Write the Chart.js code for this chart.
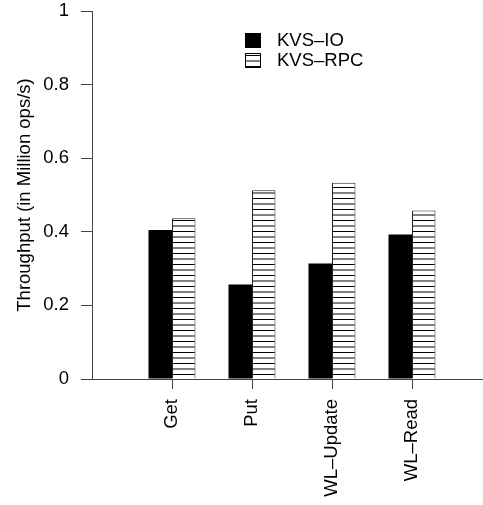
<!DOCTYPE html>
<html>
<head>
<meta charset="utf-8">
<script src="https://cdn.jsdelivr.net/npm/chart.js@4"></script>
<style>
  html, body { margin: 0; padding: 0; background: #fff; }
  canvas { display: block; }
</style>
</head>
<body>
<canvas id="myChart" width="483" height="505"></canvas>
<script>
// Werte der Balken
const categories = ['Get', 'Put', 'WL\u2013Update', 'WL\u2013Read'];
const kvsIo = [0.405, 0.257, 0.314, 0.393];
const kvsRpc = [0.437, 0.513, 0.533, 0.458];
const yTicks = [0, 0.2, 0.4, 0.6, 0.8, 1];
const seriesNames = ['KVS\u2013IO', 'KVS\u2013RPC'];

const FONT = '"Liberation Sans", Arial, sans-serif';
const axisColor = '#444';

// Muster mit waagerechten Linien fuer die zweite Reihe
function stripes() {
    const c = document.createElement('canvas');
    c.width = 4;
    c.height = 11;
    const g = c.getContext('2d');
    g.fillStyle = '#fff';
    g.fillRect(0, 0, 4, 11);
    g.strokeStyle = '#000';
    g.lineWidth = 1;
    g.beginPath();
    g.moveTo(0, 0.5); g.lineTo(4, 0.5);
    g.moveTo(0, 6); g.lineTo(4, 6);
    g.stroke();
    return g.createPattern(c, 'repeat');
}

const ctx = document.getElementById('myChart').getContext('2d');
const hatch = stripes();

// Legende oben rechts im Diagramm
const boxLegend = {
    id: 'boxLegend',
    afterDraw(chart) {
        const c = chart.ctx;
        c.save();
        c.font = '18.5px ' + FONT;
        c.textBaseline = 'middle';
        chart.data.datasets.forEach((ds, i) => {
            const y = 33 + i * 20;
            c.fillStyle = ds.backgroundColor;
            c.fillRect(245, y, 16, 15);
            c.strokeStyle = '#000';
            c.lineWidth = 1;
            c.strokeRect(245.5, y + 0.5, 15, 14);
            c.fillStyle = '#000';
            c.fillText(ds.label, 277, y + 8);
        });
        c.restore();
    }
};

new Chart(ctx, {
    type: 'bar',
    data: {
        datasets: [
            {
                label: seriesNames[0],
                data: kvsIo.map((v, i) => ({ x: i + 1, y: v })),
                backgroundColor: '#000',
                borderColor: '#000',
                borderWidth: 0
            },
            {
                label: seriesNames[1],
                data: kvsRpc.map((v, i) => ({ x: i + 1, y: v })),
                backgroundColor: hatch,
                borderColor: '#222',
                borderWidth: 1
            }
        ]
    },
    options: {
        responsive: false,
        animation: false,
        devicePixelRatio: 1,
        datasets: {
            bar: { barPercentage: 1, categoryPercentage: 0.5875 }
        },
        layout: { padding: 0 },
        scales: {
            x: {
                type: 'linear',
                min: 0,
                max: 4.8875,
                offset: false,
                afterBuildTicks: scale => {
                    scale.ticks = categories.map((c, i) => ({ value: i + 1 }));
                },
                afterFit: scale => {
                    scale.height = 126;
                    scale.paddingLeft = 0;
                    scale.paddingRight = 0;
                },
                ticks: {
                    autoSkip: false,
                    minRotation: 90,
                    maxRotation: 90,
                    padding: 10,
                    color: '#000',
                    font: { family: FONT, size: 18.5 },
                    callback: v => categories[v - 1]
                },
                grid: {
                    offset: false,
                    drawOnChartArea: false,
                    drawTicks: true,
                    tickLength: 10,
                    color: axisColor,
                    lineWidth: 1
                },
                border: { display: true, color: axisColor, width: 1 }
            },
            y: {
                min: 0,
                max: 1,
                afterBuildTicks: scale => {
                    scale.ticks = yTicks.map(v => ({ value: v }));
                },
                afterFit: scale => {
                    scale.width = 92;
                    scale.paddingTop = 11;
                    scale.paddingBottom = 0;
                },
                ticks: {
                    padding: 12,
                    color: '#000',
                    font: { family: FONT, size: 18.5 },
                    callback: v => String(+v.toFixed(1))
                },
                grid: {
                    drawOnChartArea: false,
                    drawTicks: true,
                    tickLength: 11,
                    color: axisColor,
                    lineWidth: 1
                },
                border: { display: true, color: axisColor, width: 1 },
                title: {
                    display: true,
                    text: 'Throughput (in Million ops/s)',
                    color: '#000',
                    font: { family: FONT, size: 18.5 },
                    padding: { top: 14, bottom: 0 }
                }
            }
        },
        plugins: {
            legend: { display: false },
            tooltip: { enabled: false }
        }
    },
    plugins: [boxLegend]
});
</script>
</body>
</html>
